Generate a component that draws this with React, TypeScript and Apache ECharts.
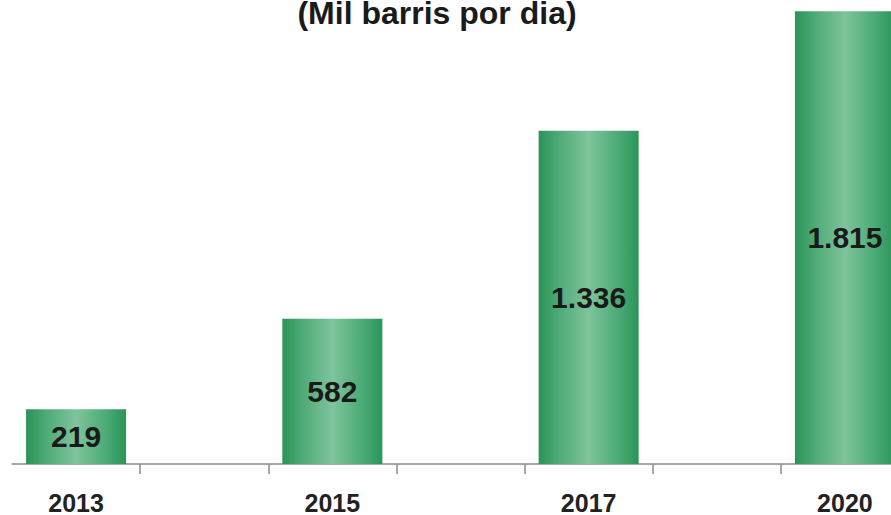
import React, { useEffect, useRef } from "react";
import * as echarts from "echarts";

const titleText = "(Mil barris por dia)";
const categories = ["2013", "", "2015", "", "2017", "", "2020"];
const values: (number | null)[] = [219, null, 582, null, 1336, null, 1815];
const valueLabels: Record<number, string> = { 219: "219", 582: "582", 1336: "1.336", 1815: "1.815" };

export default function App() {
  const ref = useRef<HTMLDivElement>(null);
  useEffect(() => {
    if (!ref.current) return;
    const chart = echarts.init(ref.current, null, { renderer: "svg" });
    const barColor = new echarts.graphic.LinearGradient(0, 0, 1, 0, [
      { offset: 0, color: "#2a9457" },
      { offset: 0.2, color: "#4eaa77" },
      { offset: 0.5, color: "#7fc49d" },
      { offset: 0.8, color: "#4baa75" },
      { offset: 1, color: "#2b9559" },
    ]);
    chart.setOption({
      animation: false,
      backgroundColor: "#ffffff",
      graphic: [
        {
          type: "text",
          x: 437,
          y: 13,
          style: {
            text: titleText,
            fontFamily: "Liberation Sans, Arial, sans-serif",
            fontWeight: "bold",
            fontSize: 32,
            fill: "#1a1a1a",
            align: "center",
            verticalAlign: "middle",
          },
        },
      ],
      grid: { left: 12, top: 0, width: 897, height: 469, containLabel: false },
      xAxis: {
        type: "category",
        data: categories,
        boundaryGap: true,
        axisLine: { show: true, lineStyle: { color: "#8a8a8a", width: 1.5 } },
        axisTick: {
          show: true,
          length: 10,
          interval: (index: number) => index !== 0,
          lineStyle: { color: "#8a8a8a", width: 1.5 },
        },
        axisLabel: {
          interval: 0,
          margin: 26,
          fontFamily: "Liberation Sans, Arial, sans-serif",
          fontWeight: "bold",
          fontSize: 25,
          color: "#222222",
        },
      },
      yAxis: {
        type: "value",
        min: 0,
        max: 1860,
        show: false,
        splitLine: { show: false },
      },
      series: [
        {
          type: "bar",
          data: values,
          barWidth: 100,
          itemStyle: { color: barColor },
          label: {
            show: true,
            position: "inside",
            formatter: (p: any) => valueLabels[p.value] ?? String(p.value),
            fontFamily: "Liberation Sans, Arial, sans-serif",
            fontWeight: "bold",
            fontSize: 30,
            color: "#1a1a1a",
          },
        },
      ],
    });
    return () => chart.dispose();
  }, []);
  return (
    <div
      style={{ position: "fixed", left: 0, top: 0, width: 891, height: 515, overflow: "hidden", background: "#fff" }}
    >
      <div ref={ref} style={{ position: "absolute", left: 0, top: 0, width: 940, height: 515 }} />
    </div>
  );
}
